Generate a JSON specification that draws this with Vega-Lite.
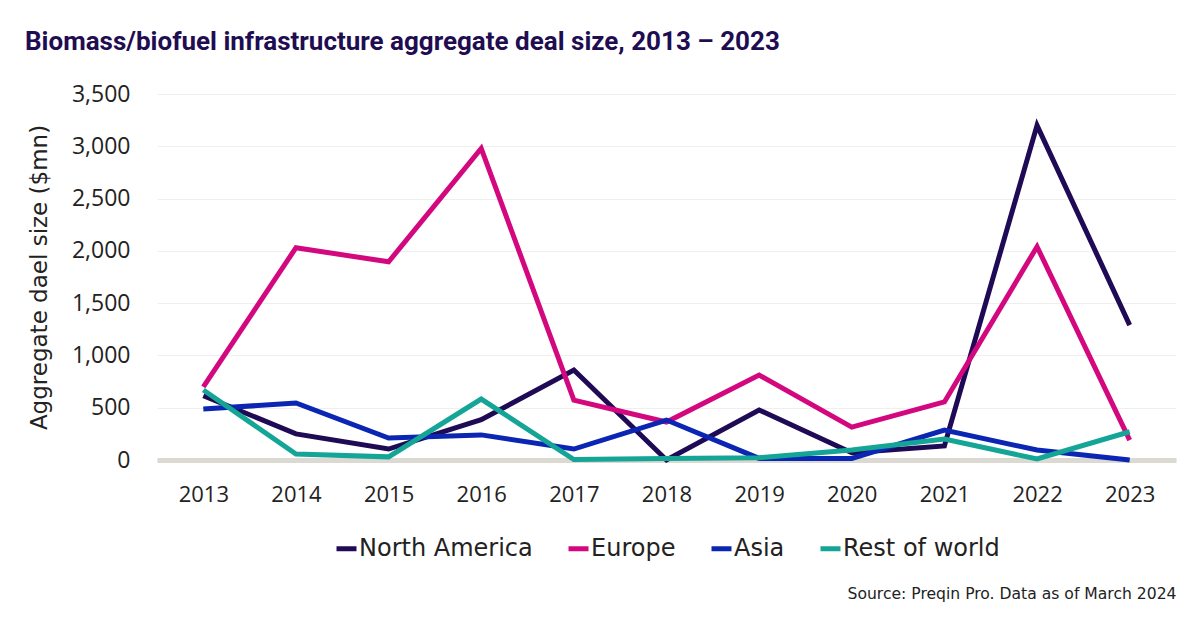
{
  "$schema": "https://vega.github.io/schema/vega-lite/v6.json",
  "width": 1019,
  "height": 366,
  "autosize": {"type": "none"},
  "padding": {"left": 157, "top": 94, "right": 24, "bottom": 168},
  "background": "white",
  "title": {
    "text": "Biomass/biofuel infrastructure aggregate deal size, 2013 – 2023",
    "anchor": "start",
    "frame": "group",
    "dx": -132,
    "offset": 28,
    "font": "Roboto",
    "fontSize": 26,
    "fontWeight": "bold",
    "color": "#1f0d52"
  },
  "config": {
    "view": {"stroke": null},
    "font": "Open Sans",
    "axis": {"labelFont": "Open Sans", "titleFont": "DejaVu Sans", "labelColor": "#222222", "titleColor": "#222222"},
    "legend": {"labelFont": "DejaVu Sans"}
  },
  "data": {
    "values": [
      {"year": "2013", "region": "North America", "value": 615},
      {"year": "2014", "region": "North America", "value": 250},
      {"year": "2015", "region": "North America", "value": 105},
      {"year": "2016", "region": "North America", "value": 385},
      {"year": "2017", "region": "North America", "value": 860},
      {"year": "2018", "region": "North America", "value": 0},
      {"year": "2019", "region": "North America", "value": 478},
      {"year": "2020", "region": "North America", "value": 70},
      {"year": "2021", "region": "North America", "value": 135},
      {"year": "2022", "region": "North America", "value": 3200},
      {"year": "2023", "region": "North America", "value": 1290},
      {"year": "2013", "region": "Europe", "value": 700},
      {"year": "2014", "region": "Europe", "value": 2030},
      {"year": "2015", "region": "Europe", "value": 1895},
      {"year": "2016", "region": "Europe", "value": 2980},
      {"year": "2017", "region": "Europe", "value": 573},
      {"year": "2018", "region": "Europe", "value": 363},
      {"year": "2019", "region": "Europe", "value": 812},
      {"year": "2020", "region": "Europe", "value": 315},
      {"year": "2021", "region": "Europe", "value": 555},
      {"year": "2022", "region": "Europe", "value": 2040},
      {"year": "2023", "region": "Europe", "value": 190},
      {"year": "2013", "region": "Asia", "value": 487},
      {"year": "2014", "region": "Asia", "value": 545},
      {"year": "2015", "region": "Asia", "value": 210},
      {"year": "2016", "region": "Asia", "value": 240},
      {"year": "2017", "region": "Asia", "value": 105},
      {"year": "2018", "region": "Asia", "value": 382},
      {"year": "2019", "region": "Asia", "value": 15},
      {"year": "2020", "region": "Asia", "value": 15},
      {"year": "2021", "region": "Asia", "value": 287},
      {"year": "2022", "region": "Asia", "value": 95},
      {"year": "2023", "region": "Asia", "value": 0},
      {"year": "2013", "region": "Rest of world", "value": 670},
      {"year": "2014", "region": "Rest of world", "value": 57},
      {"year": "2015", "region": "Rest of world", "value": 30},
      {"year": "2016", "region": "Rest of world", "value": 583},
      {"year": "2017", "region": "Rest of world", "value": 5},
      {"year": "2018", "region": "Rest of world", "value": 15},
      {"year": "2019", "region": "Rest of world", "value": 22},
      {"year": "2020", "region": "Rest of world", "value": 95},
      {"year": "2021", "region": "Rest of world", "value": 200},
      {"year": "2022", "region": "Rest of world", "value": 10},
      {"year": "2023", "region": "Rest of world", "value": 270}
    ]
  },
  "mark": {"type": "line", "strokeWidth": 5, "strokeJoin": "miter"},
  "encoding": {
    "x": {
      "field": "year",
      "type": "ordinal",
      "scale": {"padding": 0.5},
      "axis": {
        "labelAngle": 0,
        "labelFontSize": 22,
        "labelPadding": 24,
        "ticks": false,
        "grid": false,
        "domain": true,
        "domainColor": "#dcd8d2",
        "domainWidth": 5,
        "zindex": 0,
        "title": "Source: Preqin Pro. Data as of March 2024",
        "titleFont": "DejaVu Sans",
        "titleFontSize": 15.6,
        "titleFontWeight": "normal",
        "titleAnchor": "end",
        "titleAlign": "right",
        "titleBaseline": "middle",
        "titleX": 1019,
        "titleY": 133
      }
    },
    "y": {
      "field": "value",
      "type": "quantitative",
      "scale": {"domain": [0, 3500], "nice": false},
      "axis": {
        "values": [0, 500, 1000, 1500, 2000, 2500, 3000, 3500],
        "format": ",.0f",
        "labelFontSize": 23,
        "labelPadding": 27,
        "ticks": false,
        "domain": false,
        "grid": true,
        "gridColor": "#f0efee",
        "gridWidth": 1,
        "title": "Aggregate dael size ($mn)",
        "titleFontSize": 23,
        "titleFontWeight": "normal",
        "titlePadding": 20
      }
    },
    "color": {
      "field": "region",
      "type": "nominal",
      "sort": ["North America", "Europe", "Asia", "Rest of world"],
      "scale": {
        "domain": ["North America", "Europe", "Asia", "Rest of world"],
        "range": ["#1f0a55", "#d3087f", "#0a26b3", "#14a597"]
      },
      "legend": {
        "title": null,
        "orient": "none",
        "direction": "horizontal",
        "legendX": 177,
        "legendY": 442,
        "symbolType": "stroke",
        "symbolStrokeWidth": 5,
        "symbolSize": 400,
        "labelFontSize": 24,
        "labelColor": "#222222",
        "labelOffset": 0,
        "columnPadding": 25,
        "labelLimit": 300
      }
    }
  }
}
